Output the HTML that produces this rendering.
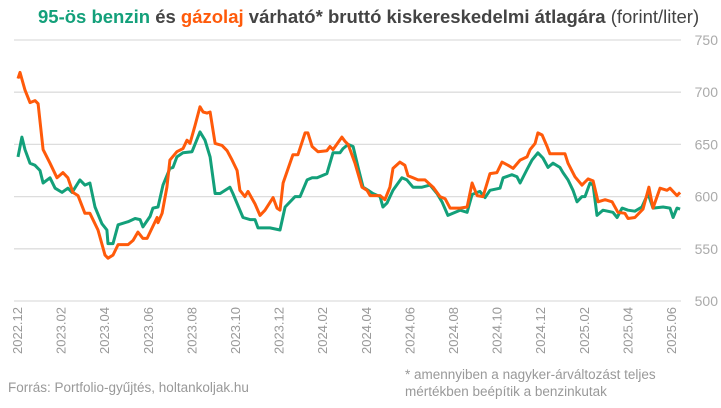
<!DOCTYPE html>
<html><head><meta charset="utf-8"><style>
body{margin:0;background:#fff;font-family:"Liberation Sans",sans-serif}
svg text{font-family:"Liberation Sans",sans-serif}
</style></head><body>
<svg width="721" height="403" xmlns="http://www.w3.org/2000/svg">
<text x="38" y="23" font-size="18.5" font-weight="bold" fill="#444"><tspan fill="#13a07a">95-ös benzin</tspan> és <tspan fill="#ff5a0a">gázolaj</tspan> várható* bruttó kiskereskedelmi átlagára <tspan font-weight="normal">(forint/liter)</tspan></text>
<g id="grid"></g><g id="ylab"></g><g id="xlab"></g><g id="lines"></g>
<text x="8" y="392" font-size="13.5" fill="#999">Forrás: Portfolio-gyűjtés, holtankoljak.hu</text>
<text x="405" y="379" font-size="13.5" fill="#999">* amennyiben a nagyker-árváltozást teljes</text>
<text x="405" y="396" font-size="13.5" fill="#999">mértékben beépítik a benzinkutak</text>
</svg>
<script>
const yTicks=[500,550,600,650,700,750];
const xTickLabels=["2022.12","2023.02","2023.04","2023.06","2023.08","2023.10","2023.12","2024.02","2024.04","2024.06","2024.08","2024.10","2024.12","2025.02","2025.04","2025.06"];
const dieselMonths=[0,0.09,0.32,0.55,0.78,0.92,1.15,1.47,1.79,2.06,2.29,2.52,2.75,3.07,3.3,3.67,3.99,4.13,4.36,4.59,5.05,5.28,5.5,5.73,5.92,6.38,6.42,6.61,6.83,6.97,7.29,7.57,7.75,7.89,8.12,8.35,8.49,8.67,8.81,9.04,9.36,9.59,9.82,10.05,10.18,10.41,10.55,10.87,11.1,11.33,11.7,11.88,12.02,12.16,12.61,12.84,13.17,13.3,13.49,13.76,14.17,14.31,14.45,14.86,15,15.14,15.46,15.78,16.01,16.15,16.61,16.83,17.06,17.2,17.52,17.75,17.89,18.12,18.35,18.67,19.04,19.36,19.59,19.82,20.28,20.6,20.83,21.06,21.33,21.65,21.97,22.2,22.48,22.71,23.03,23.35,23.49,23.72,23.85,24.04,24.27,24.4,24.86,25.09,25.23,25.55,25.87,26.01,26.15,26.38,26.61,26.93,27.25,27.52,27.84,27.98,28.3,28.67,28.94,29.13,29.45,29.77,29.91,30.23,30.37];
const dieselValues=[713,719,702,690,692,689,645,632,618,623,618,604,601,584,584,568,544,541,544,554,554,558,566,560,560,580,575,584,609,635,643,646,654,651,668,686,681,680,681,651,649,644,635,625,606,600,605,593,582,587,599,589,587,613,640,640,661,661,648,643,644,648,645,657,653,650,632,609,606,601,601,597,609,627,633,630,620,618,616,616,609,600,598,589,589,590,613,601,600,622,623,633,630,627,635,638,645,651,661,659,648,641,641,641,632,619,611,614,617,615,595,597,595,585,584,579,580,588,609,589,608,606,608,601,604];
const petrolMonths=[0,0.18,0.32,0.55,0.78,1.01,1.15,1.47,1.7,2.02,2.29,2.48,2.84,3.07,3.3,3.53,3.85,4.08,4.13,4.36,4.59,5.05,5.37,5.6,5.73,6.06,6.19,6.42,6.65,6.97,7.11,7.29,7.57,7.98,8.35,8.58,8.81,9.04,9.27,9.72,9.86,10.18,10.32,10.64,10.87,11.01,11.56,12.02,12.25,12.71,12.94,13.26,13.49,13.72,13.94,14.17,14.45,14.77,14.91,15.14,15.37,15.6,15.83,16.06,16.28,16.61,16.74,16.93,17.2,17.61,17.84,18.12,18.53,18.9,19.22,19.45,19.72,19.95,20.28,20.6,20.83,21.19,21.42,21.65,22.11,22.25,22.66,22.89,23.03,23.35,23.58,23.85,24.08,24.31,24.54,24.86,25,25.23,25.46,25.64,25.87,26.01,26.24,26.38,26.56,26.83,27.29,27.48,27.71,27.98,28.3,28.62,28.9,29.13,29.59,29.91,30.05,30.23,30.37];
const petrolValues=[638,657,645,632,630,625,613,618,608,604,608,604,616,611,613,590,574,568,555,555,573,576,579,578,571,581,589,590,611,627,628,638,642,643,662,654,638,603,603,609,603,587,580,578,578,570,570,568,590,600,600,616,618,618,620,622,642,642,646,650,648,628,609,606,603,600,590,594,606,618,616,609,609,611,603,595,582,584,587,585,602,605,599,606,608,618,621,619,613,626,635,642,637,628,632,628,623,616,606,595,600,600,613,611,582,587,585,580,589,587,586,590,603,589,590,589,580,589,588];
const X=m=>18+m*21.8, Y=v=>40+(750-v)*1.044;
const NS="http://www.w3.org/2000/svg";
function mk(tag,parent,attrs){const e=document.createElementNS(NS,tag);for(const k in attrs)e.setAttribute(k,attrs[k]);document.getElementById(parent).appendChild(e);return e;}
yTicks.forEach(v=>{
 const l=mk('line','grid',{x1:14,x2:681,y1:Y(v),y2:Y(v),stroke:'#ddd','stroke-width':1.3});
 
 
 const t=mk('text','ylab',{x:718,y:Y(v)+5,'text-anchor':'end','font-size':14,fill:'#aaa'});
 t.textContent=v;
 
 
});
xTickLabels.forEach((s,i)=>{
 const x=X(i*2)+4;
 const t=mk('text','xlab',{x:x,y:307,'text-anchor':'end','font-size':13,fill:'#999',transform:`rotate(-90 ${x} 307)`});
 t.textContent=s;
 
 
});
function line(ms,vs,col,name){
 const p=mk('polyline','lines',{points:ms.map((m,i)=>X(m).toFixed(1)+','+Y(vs[i]).toFixed(1)).join(' '),fill:'none',stroke:col,'stroke-width':3,'stroke-linejoin':'round'});
 
 
}
line(petrolMonths,petrolValues,'#13a07a','petrol-95-line');
line(dieselMonths,dieselValues,'#ff5a0a','diesel-line');
</script>
</body></html>
